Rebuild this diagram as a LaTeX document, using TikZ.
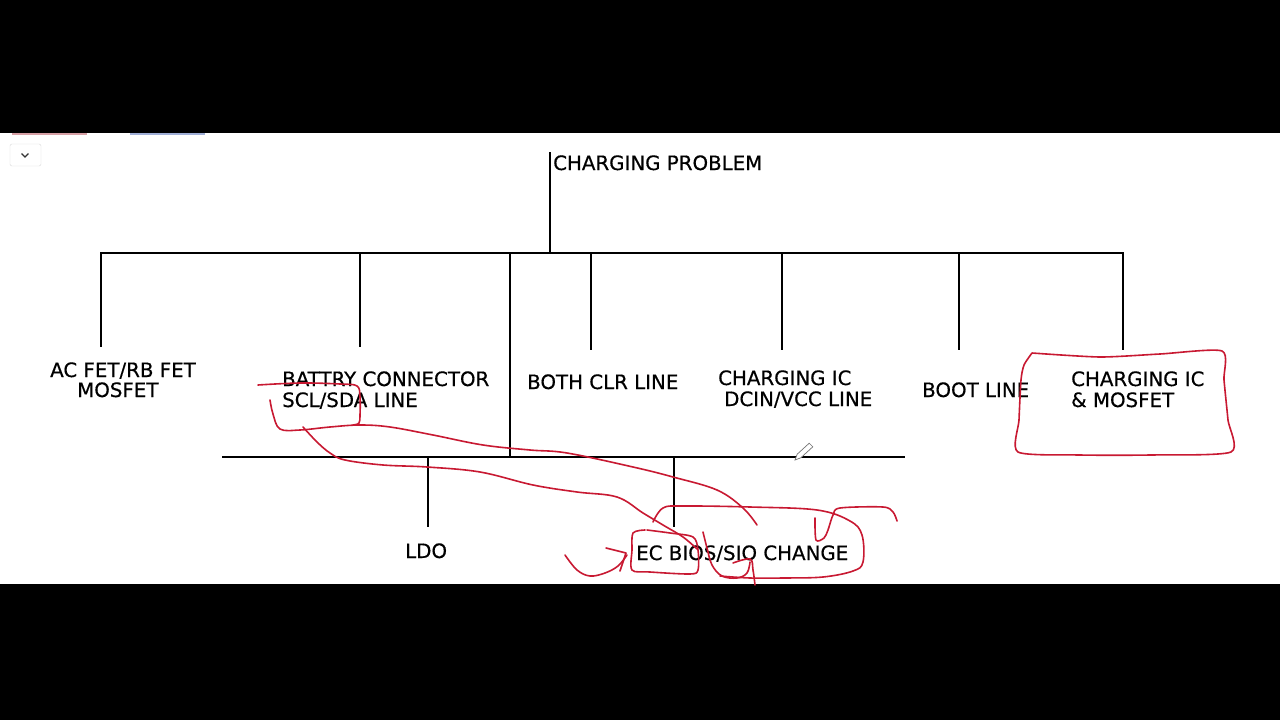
\documentclass[tikz,border=0pt]{standalone}
\usepackage{fontspec}
\setmainfont{DejaVu Sans}[FakeBold=0.5]
\definecolor{pen}{RGB}{200,25,50}
\definecolor{uired}{RGB}{215,160,165}
\definecolor{uiblue}{RGB}{160,175,215}
\begin{document}
\begin{tikzpicture}[x=1pt,y=-1pt,
  tree/.style={line width=2pt,black},
  lbl/.style={anchor=base west,inner sep=0pt,font=\fontsize{19.8}{23}\selectfont},
  redpen/.style={draw=pen,line width=1.6pt,line cap=round,line join=round}]
\useasboundingbox (0,0) rectangle (1280,720);
\fill[black] (0,0) rectangle (1280,720);
\fill[white] (0,133) rectangle (1280,584);
% screen UI remnants
\fill[uired] (12,133) rectangle (87,135);
\fill[uiblue] (130,133) rectangle (205,135);
\draw[black!15,rounded corners=2pt] (10,144) rectangle (41,166);
\draw[black!80,line width=1.2pt] (21.5,153.5) -- (25,157) -- (28.5,153.5);
% tree coordinates
\coordinate (root) at (550,152);
\coordinate (rootb) at (550,253);
\coordinate (busL) at (100,253);
\coordinate (busR) at (1124,253);
\foreach \n/\x/\y in {d1/101/347,d2/360/347,d3/510/457,d4/591/350,d5/782/350,d6/959/350,d7/1123/350}{
  \coordinate (\n top) at (\x,253);
  \coordinate (\n) at (\x,\y);
}
\coordinate (bus2L) at (222,457);
\coordinate (bus2R) at (905,457);
\coordinate (e1top) at (428,457);
\coordinate (e1) at (428,527);
\coordinate (e2top) at (674,457);
\coordinate (e2) at (674,527);
% labels
\node[lbl] (title) at (553,170) {CHARGING PROBLEM};
\node[lbl] (ac1) at (50,377) {AC FET/RB FET};
\node[lbl] (ac2) at (77,397) {MOSFET};
\node[lbl] (bat1) at (282,386) {BATTRY CONNECTOR};
\node[lbl] (bat2) at (282,407) {SCL/SDA LINE};
\node[lbl] (clr) at (527,389) {BOTH CLR LINE};
\node[lbl] (cic1) at (718,385) {CHARGING IC};
\node[lbl] (cic2) at (724,406) {DCIN/VCC LINE};
\node[lbl] (boot) at (922,397) {BOOT LINE};
\node[lbl] (cm1) at (1071,386) {CHARGING IC};
\node[lbl] (cm2) at (1071,407) {\& MOSFET};
\node[lbl] (ldo) at (405,558) {LDO};
\node[lbl] (ec) at (636,560) {EC BIOS/SIO CHANGE};
% tree lines
\draw[tree] (root) -- (rootb);
\draw[tree] (busL) -- (busR);
\foreach \n in {d1,d2,d3,d4,d5,d6,d7}{\draw[tree] (\n top) -- (\n);}
\draw[tree] (bus2L) -- (bus2R);
\draw[tree] (e1top) -- (e1);
\draw[tree] (e2top) -- (e2);
% pencil cursor
\draw[black!55,line width=0.7pt,fill=white] (795,460) -- (800.8,457.8) -- (812.8,446.8) -- (809.2,443.2) -- (797.2,454.2) -- cycle;
% red freehand annotations
\draw[redpen] plot[smooth,tension=0.6] coordinates {(258,385) (300,383) (340,384) (357,386) (360,397) (360,415) (359,423) (353,425)};
\draw[redpen] plot[smooth,tension=0.6] coordinates {(270,400) (273,414) (280,429) (300,430) (330,427) (360,425) (390,427) (433,435) (483,445) (530,450) (567,453) (633,467) (673,477) (717,490) (743,508) (757,525)};
\draw[redpen] plot[smooth,tension=0.6] coordinates {(303,427) (317,442) (330,453) (345,460) (383,465) (427,467) (480,472) (533,485) (577,492) (617,497) (643,513) (663,525) (683,537) (697,549)};
\draw[redpen] plot[smooth,tension=0.6] coordinates {(653,522) (663,508) (683,506) (750,507) (817,510) (850,521) (862,535) (863,562) (853,571) (823,577) (783,578) (750,578) (720,576)};
\draw[redpen] plot[smooth,tension=0.5] coordinates {(645,530) (633,533) (632,550) (632,570) (650,572) (690,574) (698,570) (698,550) (693,537) (670,533) (647,530)};
\draw[redpen] plot[smooth,tension=0.6] coordinates {(703,532) (707,548) (712,565) (722,576) (737,578) (747,573) (750,562)};
\draw[redpen] plot[smooth,tension=0.6] coordinates {(733,563) (750,559) (753,570) (755,585)};
\draw[redpen] plot[smooth,tension=0.6] coordinates {(565,555) (577,570) (590,576) (605,573) (618,566) (627,555)};
\draw[redpen] (606,548) -- (626,553) -- (620,571);
\draw[redpen] plot[smooth,tension=0.5] coordinates {(815,518) (816,540) (824,538) (828,530) (833,515) (840,508) (883,507) (893,512) (897,521)};
\draw[redpen] plot[smooth,tension=0.4] coordinates {(1032,353) (1100,357) (1160,354) (1222,351) (1224,380) (1228,420) (1231,452) (1150,455) (1080,455) (1018,452) (1019,420) (1021,380) (1024,365) (1032,353)};
\end{tikzpicture}
\end{document}
